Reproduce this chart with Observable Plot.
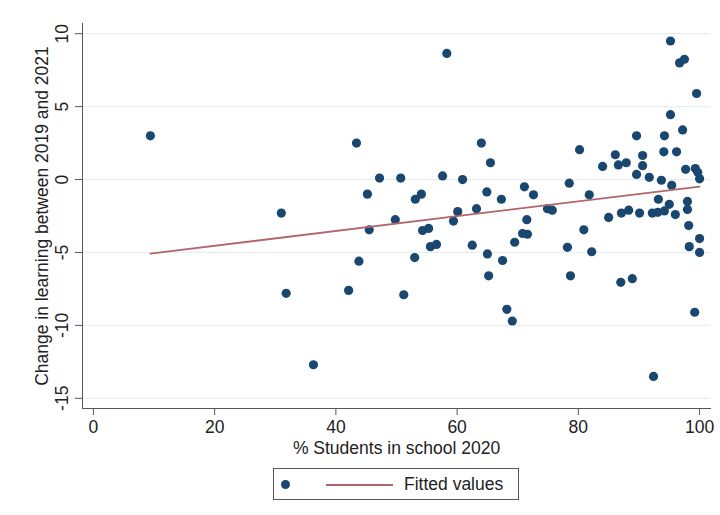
<!DOCTYPE html>
<html><head><meta charset="utf-8">
<script src="https://cdn.jsdelivr.net/npm/d3@7"></script>
<script src="https://cdn.jsdelivr.net/npm/@observablehq/plot@0.6"></script>
<style>
body{margin:0;background:#fff;font-family:"Liberation Sans",Arial,sans-serif;}
#wrap{position:relative;width:720px;height:515px;overflow:hidden;}
#legend{position:absolute;left:273px;top:468px;width:246px;height:32px;border:1px solid #555;box-sizing:border-box;background:#fff;}
#legend .dot{position:absolute;left:7px;top:11px;width:9px;height:9px;border-radius:50%;background:#1a476f;}
#legend .ln{position:absolute;left:52px;top:15px;width:67px;height:0;border-top:2px solid #b0666b;}
#legend .tx{position:absolute;left:130px;top:5px;font-size:17.5px;color:#222;line-height:20px;}
</style>
</head><body>
<div id="wrap"></div>
<script>
const xTicks = [0, 20, 40, 60, 80, 100];
const yTicks = [-15, -10, -5, 0, 5, 10];
const xLabel = "% Students in school 2020";
const yLabel = "Change in learning between 2019 and 2021";
const legendLabel = "Fitted values";

const studentsInSchool = [
  9.4, 31.0, 43.4, 31.8, 42.1, 36.3, 43.8, 58.3, 95.2, 96.7,
  97.5, 99.5, 95.2, 89.6, 94.2, 97.2, 80.2, 94.1, 96.2, 64.0,
  65.5, 86.1, 90.6, 84.0, 86.6, 87.9, 90.6, 89.6, 91.7, 93.7,
  95.4, 97.7, 99.3, 99.7, 100.0, 47.2, 50.7, 57.6, 60.9, 45.2,
  53.1, 54.1, 64.9, 67.3, 71.1, 72.6, 78.5, 81.8, 74.9, 75.7,
  63.2, 60.1, 59.4, 49.8, 45.5, 54.3, 55.3, 55.6, 56.6, 62.5,
  71.5, 69.5, 70.8, 71.6, 80.9, 78.2, 82.2, 65.0, 53.0, 67.5,
  85.0, 87.1, 88.3, 90.1, 92.2, 93.1, 94.2, 93.2, 95.0, 96.0,
  98.0, 98.0, 98.2, 100.0, 98.3, 100.0, 51.2, 65.2, 68.2, 69.1,
  78.7, 87.0, 88.9, 99.2, 92.4
];
const learningChange = [
  3.0, -2.3, 2.5, -7.8, -7.6, -12.7, -5.6, 8.65, 9.5, 8.0,
  8.25, 5.9, 4.45, 3.0, 3.0, 3.4, 2.05, 1.9, 1.9, 2.5,
  1.15, 1.7, 1.65, 0.9, 1.0, 1.15, 0.95, 0.35, 0.15, -0.05,
  -0.4, 0.7, 0.75, 0.5, 0.05, 0.1, 0.1, 0.25, 0.0, -1.0,
  -1.35, -1.0, -0.85, -1.35, -0.5, -1.05, -0.25, -1.05, -2.0, -2.1,
  -2.0, -2.2, -2.85, -2.75, -3.45, -3.5, -3.35, -4.6, -4.45, -4.5,
  -2.75, -4.3, -3.7, -3.75, -3.45, -4.65, -4.95, -5.1, -5.35, -5.55,
  -2.6, -2.3, -2.1, -2.3, -2.3, -2.25, -2.15, -1.35, -1.7, -2.4,
  -1.5, -2.05, -3.15, -4.05, -4.6, -5.0, -7.9, -6.6, -8.9, -9.7,
  -6.6, -7.05, -6.8, -9.1, -13.5
];
const fitX = [9.4, 100];
const fitY = [-5.08, -0.48];

const points = studentsInSchool.map((x, i) => ({x, y: learningChange[i]}));
const fit = fitX.map((x, i) => ({x, y: fitY[i]}));

const font = '"Liberation Sans", Arial, sans-serif';
const fs = 17.5;
const chart = Plot.plot({
  width: 720, height: 460,
  marginLeft: 82, marginRight: 10, marginTop: 23, marginBottom: 52,
  style: {fontFamily: font, fontSize: fs + "px", color: "#222", background: "white", overflow: "visible"},
  x: {domain: [-1.8, 101.8]},
  y: {domain: [-15.7, 10.7]},
  marks: [
    Plot.gridY(yTicks, {stroke: "#e6eef0", strokeOpacity: 1, strokeWidth: 1.2}),
    Plot.frame({anchor: "left", stroke: "#555"}),
    Plot.frame({anchor: "bottom", stroke: "#555"}),
    Plot.axisX({ticks: xTicks, tickSize: 7, tickPadding: 5, label: null, fontSize: fs, stroke: "#555", fill: "#222"}),
    Plot.axisY({ticks: yTicks, tickSize: 7, tickFormat: () => "", label: null, stroke: "#555"}),
    Plot.text(yTicks, {y: d => d, frameAnchor: "left", dx: -20, rotate: -90, textAnchor: "middle", lineAnchor: "middle", text: d => String(d), fontSize: fs, fill: "#222"}),
    Plot.text([yLabel], {frameAnchor: "left", dx: -40, rotate: -90, textAnchor: "middle", lineAnchor: "middle", text: d => d, fontSize: fs, fill: "#222"}),
    Plot.text([xLabel], {frameAnchor: "bottom", dy: 40, textAnchor: "middle", lineAnchor: "middle", text: d => d, fontSize: fs, fill: "#222"}),
    Plot.dot(points, {x: "x", y: "y", r: 4.6, fill: "#1a476f", stroke: "none"}),
    Plot.line(fit, {x: "x", y: "y", stroke: "#b0666b", strokeWidth: 1.8})
  ]
});
const wrap = document.getElementById("wrap");
wrap.appendChild(chart);
const legend = document.createElement("div");
legend.id = "legend";
legend.innerHTML = '<span class="dot"></span><span class="ln"></span><span class="tx"></span>';
legend.querySelector(".tx").textContent = legendLabel;
wrap.appendChild(legend);
</script>
</body></html>
